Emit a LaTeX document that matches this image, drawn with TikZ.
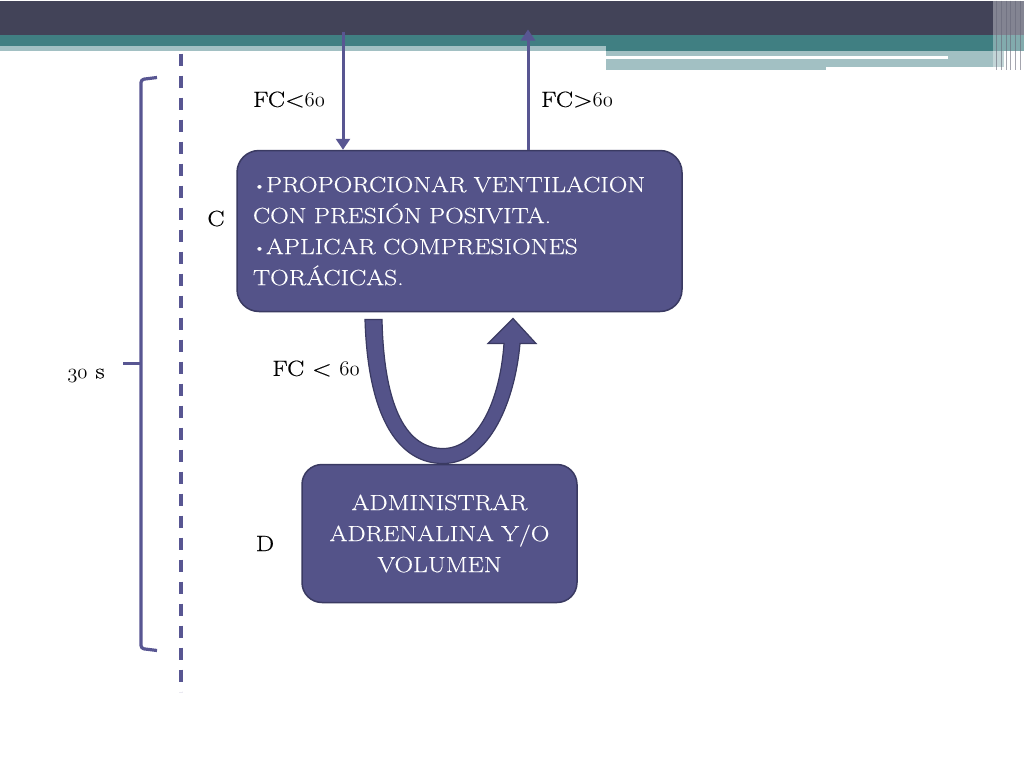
\documentclass[tikz,border=0pt]{standalone}
\usepackage{fontspec}
\setmainfont{Latin Modern Roman}[FakeStretch=1.17, FakeBold=0.4]
\usetikzlibrary{arrows.meta, positioning}
\definecolor{banddark}{RGB}{66, 67, 88}
\definecolor{bandteal}{RGB}{64, 127, 130}
\definecolor{bandlight}{RGB}{162, 192, 195}
\definecolor{boxfill}{RGB}{84, 83, 137}
\definecolor{boxline}{RGB}{58, 58, 98}
\definecolor{linkblue}{RGB}{88, 86, 146}
\newcommand{\osn}[1]{{\usefont{OML}{lmm}{m}{it}#1}}
\newcommand{\slidefont}{\fontsize{22}{31}\selectfont}
\newcommand{\bul}{{\raisebox{0.12ex}{\scalebox{0.7}{\textbullet}}}}

\begin{document}
\begin{tikzpicture}[x=1pt, y=-1pt,
  lbl/.style={font=\slidefont, text=black, inner sep=0pt},
  stagebox/.style={draw=boxline, fill=boxfill, line width=1.5pt, rounded corners=22pt, text=white, font=\slidefont, inner ysep=4pt},
  thinarrow/.style={draw=linkblue, line width=3pt, -{Triangle[width=14pt, length=11pt]}},
  guide/.style={draw=linkblue, line width=3.2pt}]
  % Canvas
  \fill[white] (0,0) rectangle (1024,768);

  % Title banner
  \fill[banddark] (0,0) rectangle (1024,34);
  \fill[bandteal] (0,34) rectangle (1024,50);
  \fill[bandlight] (0,45) rectangle (606,50);
  \fill[bandlight] (606,50) rectangle (1004,66);
  \fill[bandlight] (606,66) rectangle (826,69);
  \fill[white] (606,55) rectangle (948,58);
  \fill[white, opacity=0.35] (993,0) rectangle (1024,69);
  \foreach \sx in {996, 1001, 1006, 1010, 1015, 1020}
    \draw[banddark!80, line width=1pt, opacity=0.6] (\sx,0) -- (\sx,69);

  % Time bracket and dashed guide
  \draw[guide, dash pattern=on 12pt off 10pt] (181,53) -- (181,691);
  \draw[guide, rounded corners=3pt] (157,77) -- (141,79) -- (141,648) -- (157,650);
  \draw[guide] (141,363) -- (123,363);
  \node[lbl] (tiempo) at (86,375) {\osn{30} s};

  % Step C
  \node[stagebox, minimum width=445pt, minimum height=161pt, text width=413pt, inner xsep=16pt, align=left] (boxC) at (459.5,230.5) {
    \bul PROPORCIONAR VENTILACION\\
    CON PRESIÓN POSIVITA.\\
    \bul APLICAR COMPRESIONES\\
    TORÁCICAS.};
  \node[lbl] (pasoC) at (216,218) {C};

  % Step D
  \node[stagebox, minimum width=275pt, minimum height=138pt, text width=265pt, inner xsep=5pt, align=center, rounded corners=20pt] (boxD) at (439.5,533) {
    ADMINISTRAR\\ADRENALINA Y/O\\VOLUMEN};
  \node[lbl] (pasoD) at (265,543) {D};

  % Entry and exit arrows
  \coordinate (entrada) at (343,31);
  \coordinate (salida) at (528,29);
  \draw[thinarrow] (entrada) -- (entrada |- boxC.north);
  \draw[thinarrow] (salida |- boxC.north) -- (salida);
  \node[lbl] (fcMenor) at (289,99) {FC<\osn{60}};
  \node[lbl] (fcMayor) at (577,99) {FC>\osn{60}};

  % Loop arrow between C and D
  \filldraw[fill=boxfill, draw=boxline, line width=1.2pt]
    (365,319) .. controls (368,420) and (400,463) .. (443,463)
    .. controls (490,463) and (515,400) .. (520,343)
    -- (536,343) -- (513,318) -- (488,343) -- (504,343)
    .. controls (500,400) and (478,448) .. (443,448)
    .. controls (408,448) and (384,410) .. (382,319) -- cycle;
  \node[lbl] (fcBucle) at (316,368) {FC < \osn{60}};
\end{tikzpicture}
\end{document}
